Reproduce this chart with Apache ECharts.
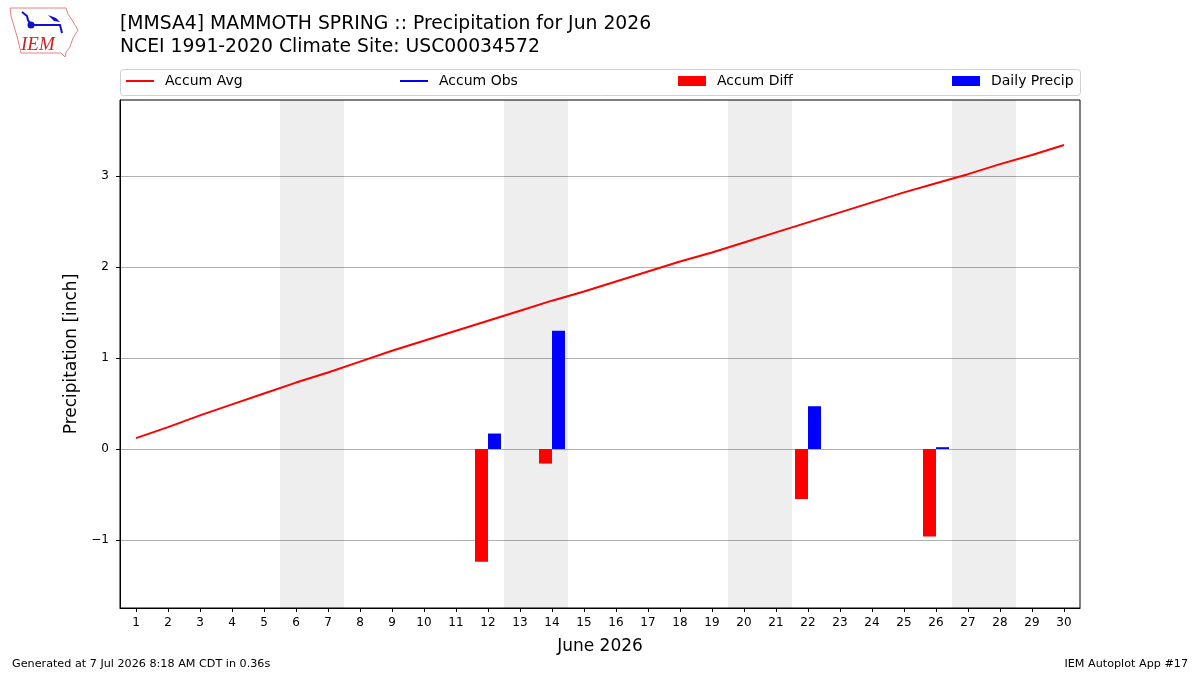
<!DOCTYPE html>
<html>
<head>
<meta charset="utf-8">
<script src="https://cdn.jsdelivr.net/npm/echarts@6/dist/echarts.min.js"></script>
<style>
  html, body { margin: 0; padding: 0; background: #fff; }
  #chart { width: 1200px; height: 675px; }
</style>
</head>
<body>
<div id="chart"></div>
<script>
// Days of the month
const days = [1, 2, 3, 4, 5, 6, 7, 8, 9, 10, 11, 12, 13, 14, 15,
  16, 17, 18, 19, 20, 21, 22, 23, 24, 25, 26, 27, 28, 29, 30];
// Climatology accumulated precipitation (inch)
const accumAvg = [0.12, 0.24, 0.37, 0.49, 0.61, 0.73, 0.84, 0.96, 1.08, 1.19,
  1.30, 1.41, 1.52, 1.63, 1.73, 1.84, 1.95, 2.06, 2.16, 2.27,
  2.38, 2.49, 2.60, 2.71, 2.82, 2.92, 3.02, 3.13, 3.23, 3.34];
// Days with observed precipitation
const precipDays = [12, 14, 22, 26];
const dailyPrecip = [0.17, 1.30, 0.47, 0.02];
const accumObs = [0.17, 1.47, 1.94, 1.96];
const accumDiff = [-1.24, -0.16, -0.55, -0.96];
// Weekend shading (Sat-Sun)
const weekends = [[5.5, 7.5], [12.5, 14.5], [19.5, 21.5], [26.5, 28.5]];
const yTicks = [-1, 0, 1, 2, 3];

const font = "DejaVu Sans";

const chart = echarts.init(document.getElementById("chart"));

// Obs line only exists on days with precip (isolated points, as in the original)
const obsData = days.map((d) => {
  const i = precipDays.indexOf(d);
  return i >= 0 ? [d, accumObs[i]] : [d, null];
});

const legendBase = {
  top: 74,
  padding: 0,
  itemWidth: 28,
  textStyle: { fontFamily: font, fontSize: 14, color: "#000", padding: [0, 0, 0, 6] },
  selectedMode: false,
};

const option = {
  animation: false,
  backgroundColor: "#fff",
  title: {
    text: "[MMSA4] MAMMOTH SPRING :: Precipitation for Jun 2026\nNCEI 1991-2020 Climate Site: USC00034572",
    left: 120,
    top: 13,
    padding: 0,
    textStyle: { fontFamily: font, fontSize: 18.8, fontWeight: "normal", color: "#000", lineHeight: 23 },
  },
  legend: [
    Object.assign({}, legendBase, { left: 126, data: [{ name: "Accum Avg", icon: "rect" }], itemHeight: 2 }),
    Object.assign({}, legendBase, { left: 400, data: [{ name: "Accum Obs", icon: "rect" }], itemHeight: 2 }),
    Object.assign({}, legendBase, { left: 678, data: [{ name: "Accum Diff", icon: "rect" }], itemHeight: 10 }),
    Object.assign({}, legendBase, { left: 952, data: [{ name: "Daily Precip", icon: "rect" }], itemHeight: 10 }),
  ],
  grid: {
    left: 120, right: 120, top: 100, bottom: 67,
    show: true, borderColor: "#000", borderWidth: 1, backgroundColor: "transparent",
  },
  xAxis: {
    type: "value",
    min: 0.5,
    max: 30.5,
    name: "June 2026",
    nameLocation: "middle",
    nameGap: 30,
    nameTextStyle: { fontFamily: font, fontSize: 17, color: "#000" },
    axisLine: { show: true, onZero: false, lineStyle: { color: "#000" } },
    axisTick: { show: true, customValues: days, length: 4, lineStyle: { color: "#000" } },
    axisLabel: { customValues: days, fontFamily: font, fontSize: 12, color: "#000", margin: 9 },
    splitLine: { show: false },
  },
  yAxis: {
    type: "value",
    min: -1.747,
    max: 3.835,
    name: "Precipitation [inch]",
    nameLocation: "middle",
    nameGap: 38,
    nameTextStyle: { fontFamily: font, fontSize: 17, color: "#000" },
    axisLine: { show: true, lineStyle: { color: "#000" } },
    axisTick: { show: true, customValues: yTicks, length: 4, lineStyle: { color: "#000" } },
    axisLabel: {
      customValues: yTicks, fontFamily: font, fontSize: 12, color: "#000", margin: 11,
      formatter: (v) => String(v).replace("-", "\u2212"),
    },
    splitLine: { show: true, lineStyle: { color: "#b0b0b0", width: 1 } },
  },
  series: [
    {
      name: "Accum Avg",
      type: "line",
      data: days.map((d, i) => [d, accumAvg[i]]),
      showSymbol: false,
      lineStyle: { color: "#ff0000", width: 2 },
      itemStyle: { color: "#ff0000" },
      z: 5,
      markArea: {
        silent: true,
        itemStyle: { color: "rgba(0,0,0,0.068)" },
        data: weekends.map((w) => [{ xAxis: w[0] }, { xAxis: w[1] }]),
      },
    },
    {
      name: "Accum Obs",
      type: "line",
      data: obsData,
      showSymbol: false,
      connectNulls: false,
      lineStyle: { color: "#0000ff", width: 2 },
      itemStyle: { color: "#0000ff" },
      z: 5,
    },
    {
      name: "Accum Diff",
      type: "bar",
      data: precipDays.map((d, i) => [d, accumDiff[i]]),
      barWidth: 13,
      barGap: "0%",
      itemStyle: { color: "#ff0000" },
    },
    {
      name: "Daily Precip",
      type: "bar",
      data: precipDays.map((d, i) => [d, dailyPrecip[i]]),
      barWidth: 13,
      barGap: "0%",
      itemStyle: { color: "#0000ff" },
    },
  ],
  graphic: [
    // legend frame
    {
      type: "rect", left: 120, top: 69, z: -1,
      shape: { width: 960, height: 26, r: 3 },
      style: { fill: "#fff", stroke: "#d0d0d0", lineWidth: 1 },
    },
    // IEM logo (rough)
    {
      type: "polyline",
      shape: { points: [[10, 8], [66, 8], [68, 14], [72, 20], [78, 30], [73, 38], [70, 47], [66, 52], [65, 57], [61, 53], [21, 53], [18, 40], [14, 26], [11, 16], [10, 8]] },
      style: { stroke: "#e88080", fill: null, lineWidth: 1 },
    },
    {
      type: "text", left: 21, top: 35,
      style: { text: "IEM", font: "italic 19px 'Liberation Serif', serif", fill: "#d02020" },
    },
    {
      type: "polyline",
      shape: { points: [[22, 12], [27, 16], [28, 20], [31, 25], [60, 25], [62, 33]] },
      style: { stroke: "#1010d0", fill: null, lineWidth: 2 },
    },
    {
      type: "circle", shape: { cx: 31, cy: 25, r: 3.5 }, style: { fill: "#1010d0" },
    },
    {
      type: "polygon", shape: { points: [[48, 15], [56, 18], [60, 22], [54, 21]] },
      style: { fill: "#1010d0" },
    },
    {
      type: "text", left: 12, top: 659,
      style: { text: "Generated at 7 Jul 2026 8:18 AM CDT in 0.36s", font: "11.2px 'DejaVu Sans'", fill: "#000" },
    },
    {
      type: "text", right: 12, top: 659,
      style: { text: "IEM Autoplot App #17", font: "11.2px 'DejaVu Sans'", fill: "#000" },
    },
  ],
};

chart.setOption(option);
</script>
</body>
</html>
